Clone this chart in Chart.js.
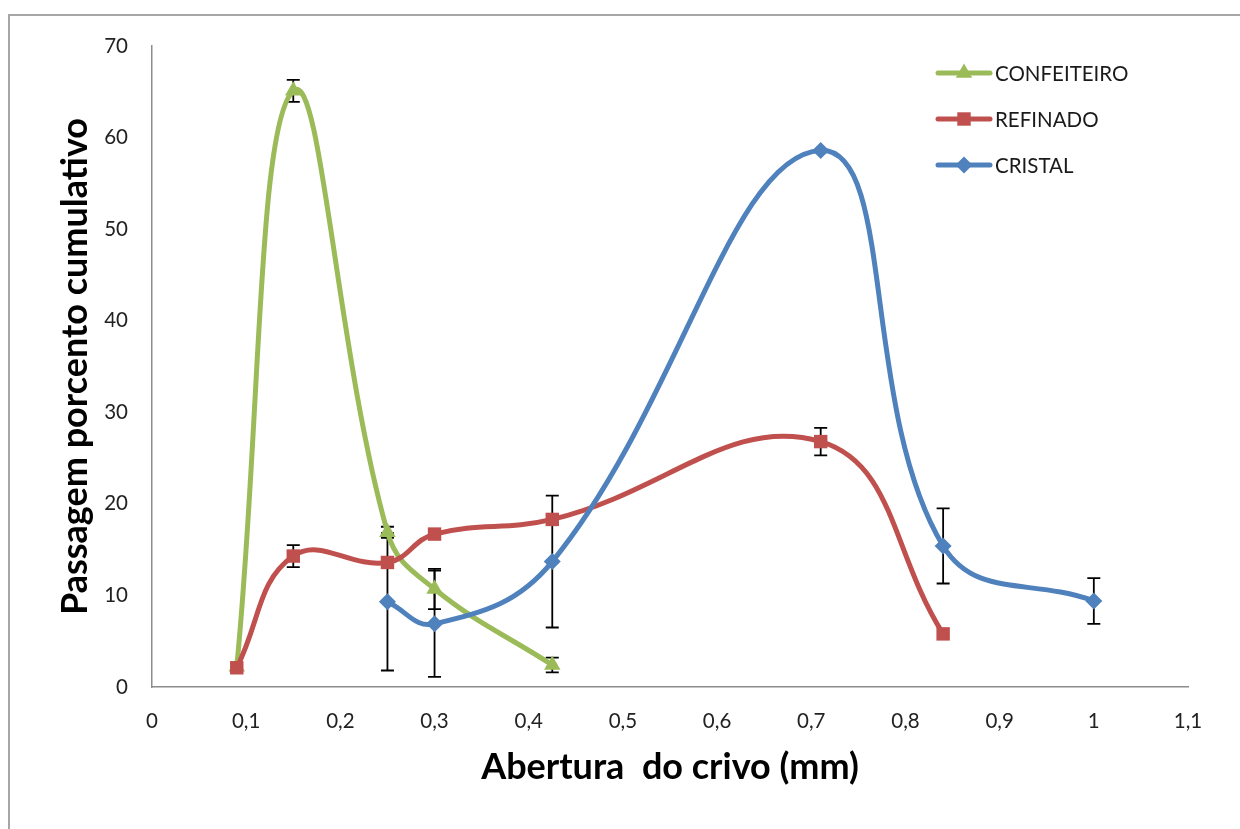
<!DOCTYPE html>
<html>
<head>
<meta charset="utf-8">
<script src="https://cdn.jsdelivr.net/npm/chart.js@4.4.0/dist/chart.umd.min.js"></script>
<style>
html, body { margin: 0; padding: 0; background: #fff; overflow: hidden; }
#wrap { position: absolute; left: 0; top: 0; width: 1240px; height: 829px; }
#frame { position: absolute; left: 8px; top: 14px; width: 1300px; height: 900px; border: 2px solid #a6a6a6; box-sizing: border-box; }
canvas { position: absolute; left: 0; top: 0; }
</style>
</head>
<body>
<div id="wrap">
  <div id="frame"></div>
  <canvas id="c" width="1240" height="829"></canvas>
</div>
<script>
// sieve openings (mm) and cumulative passing (%) per sugar type
const seriesNames = ['CONFEITEIRO', 'REFINADO', 'CRISTAL'];

const confeiteiroX = [0.09, 0.15, 0.25, 0.3, 0.425];
const confeiteiroY = [2.2, 65.1, 16.9, 10.7, 2.4];
const confeiteiroErr = [0, 1.2, 0.6, 2.2, 0.8];

const refinadoX = [0.09, 0.15, 0.25, 0.3, 0.425, 0.71, 0.84];
const refinadoY = [2.1, 14.3, 13.6, 16.7, 18.3, 26.8, 5.8];
const refinadoErr = [0, 1.2, 0, 0, 0, 1.5, 0];

const cristalX = [0.25, 0.3, 0.425, 0.71, 0.84, 1.0];
const cristalY = [9.3, 6.9, 13.7, 58.6, 15.4, 9.4];
const cristalErr = [7.5, 5.8, 7.2, 0, 4.1, 2.5];

const xTicksMax = 1.1;
const yTicksMax = 70;

const green = '#9BBB59';
const red = '#C0504D';
const blue = '#4F81BD';
const FONT = 'Lato';

function toPoints(xs, ys) {
    return xs.map((x, i) => ({ x, y: ys[i] }));
}

// Excel style vertical error bars, drawn under the markers
const errorBars = {
    id: 'errorBars',
    beforeDatasetsDraw(chart) {
        const { ctx, scales: { x, y } } = chart;
        ctx.save();
        ctx.strokeStyle = '#000';
        ctx.lineWidth = 1.8;
        chart.data.datasets.forEach(ds => {
            (ds.errors || []).forEach((e, j) => {
                if (!e) return;
                const p = ds.data[j];
                const px = x.getPixelForValue(p.x);
                const top = y.getPixelForValue(p.y + e);
                const bot = y.getPixelForValue(p.y - e);
                ctx.beginPath();
                ctx.moveTo(px, top); ctx.lineTo(px, bot);
                ctx.moveTo(px - 6.5, top); ctx.lineTo(px + 6.5, top);
                ctx.moveTo(px - 6.5, bot); ctx.lineTo(px + 6.5, bot);
                ctx.stroke();
            });
        });
        ctx.restore();
    }
};

// legend box at the upper right: line sample with marker, then name
const sideLegend = {
    id: 'sideLegend',
    afterDraw(chart) {
        const ctx = chart.ctx;
        const x0 = 938, x1 = 990, rowTop = 73, rowGap = 46;
        chart.data.datasets.forEach((ds, i) => {
            const yy = rowTop + i * rowGap;
            ctx.save();
            ctx.strokeStyle = ds.borderColor;
            ctx.lineWidth = ds.borderWidth;
            ctx.lineCap = 'round';
            ctx.beginPath();
            ctx.moveTo(x0, yy);
            ctx.lineTo(x1, yy);
            ctx.stroke();
            ctx.fillStyle = ds.backgroundColor;
            Chart.helpers.drawPoint(ctx, {
                pointStyle: ds.pointStyle,
                radius: ds.pointRadius,
                rotation: 0,
                borderWidth: 0
            }, (x0 + x1) / 2, yy);
            ctx.fillStyle = '#1a1a1a';
            ctx.font = `20.5px ${FONT}`;
            ctx.textBaseline = 'middle';
            ctx.fillText(ds.label, 995, yy + 1);
            ctx.restore();
        });
    }
};

const commonLine = {
    borderWidth: 5,
    tension: 0.42,
    pointBorderWidth: 0,
    pointHoverRadius: 9,
    fill: false
};

new Chart(document.getElementById('c').getContext('2d'), {
    type: 'line',
    data: {
        datasets: [
            {
                ...commonLine,
                label: seriesNames[0],
                data: toPoints(confeiteiroX, confeiteiroY),
                errors: confeiteiroErr,
                borderColor: green,
                backgroundColor: green,
                pointStyle: 'triangle',
                pointRadius: 9.5,
                order: 3
            },
            {
                ...commonLine,
                label: seriesNames[1],
                data: toPoints(refinadoX, refinadoY),
                errors: refinadoErr,
                borderColor: red,
                backgroundColor: red,
                pointStyle: 'rect',
                pointRadius: 9.5,
                order: 2
            },
            {
                ...commonLine,
                label: seriesNames[2],
                data: toPoints(cristalX, cristalY),
                errors: cristalErr,
                borderColor: blue,
                backgroundColor: blue,
                pointStyle: 'rectRot',
                pointRadius: 8.5,
                order: 1
            }
        ]
    },
    options: {
        responsive: false,
        animation: false,
        devicePixelRatio: 1,
        layout: { padding: { left: 0, top: 46, right: 52, bottom: 0 } },
        plugins: {
            legend: { display: false },
            tooltip: { enabled: false }
        },
        scales: {
            x: {
                type: 'linear',
                min: 0,
                max: xTicksMax,
                afterFit(s) { s.height = 142; },
                grid: { display: false, drawTicks: false },
                border: { display: true, color: '#8c8c8c', width: 1.5 },
                ticks: {
                    stepSize: 0.1,
                    padding: 22,
                    color: '#222',
                    font: { family: FONT, size: 20.5 },
                    callback: v => String(Math.round(v * 10) / 10).replace('.', ',')
                },
                title: {
                    display: true,
                    text: 'Abertura  do crivo (mm)',
                    color: '#000',
                    font: { family: FONT, size: 36, weight: 'bold' },
                    padding: { top: 0, bottom: 40 }
                }
            },
            y: {
                min: 0,
                max: yTicksMax,
                afterFit(s) { s.width = 152; },
                grid: { display: false, drawTicks: false },
                border: { display: true, color: '#8c8c8c', width: 1.5 },
                ticks: {
                    stepSize: 10,
                    padding: 24,
                    color: '#222',
                    font: { family: FONT, size: 20.5 }
                },
                title: {
                    display: true,
                    text: 'Passagem porcento cumulativo',
                    color: '#000',
                    font: { family: FONT, size: 36, weight: 'bold' },
                    padding: { top: 54, bottom: 0 }
                }
            }
        }
    },
    plugins: [errorBars, sideLegend]
});
</script>
</body>
</html>
